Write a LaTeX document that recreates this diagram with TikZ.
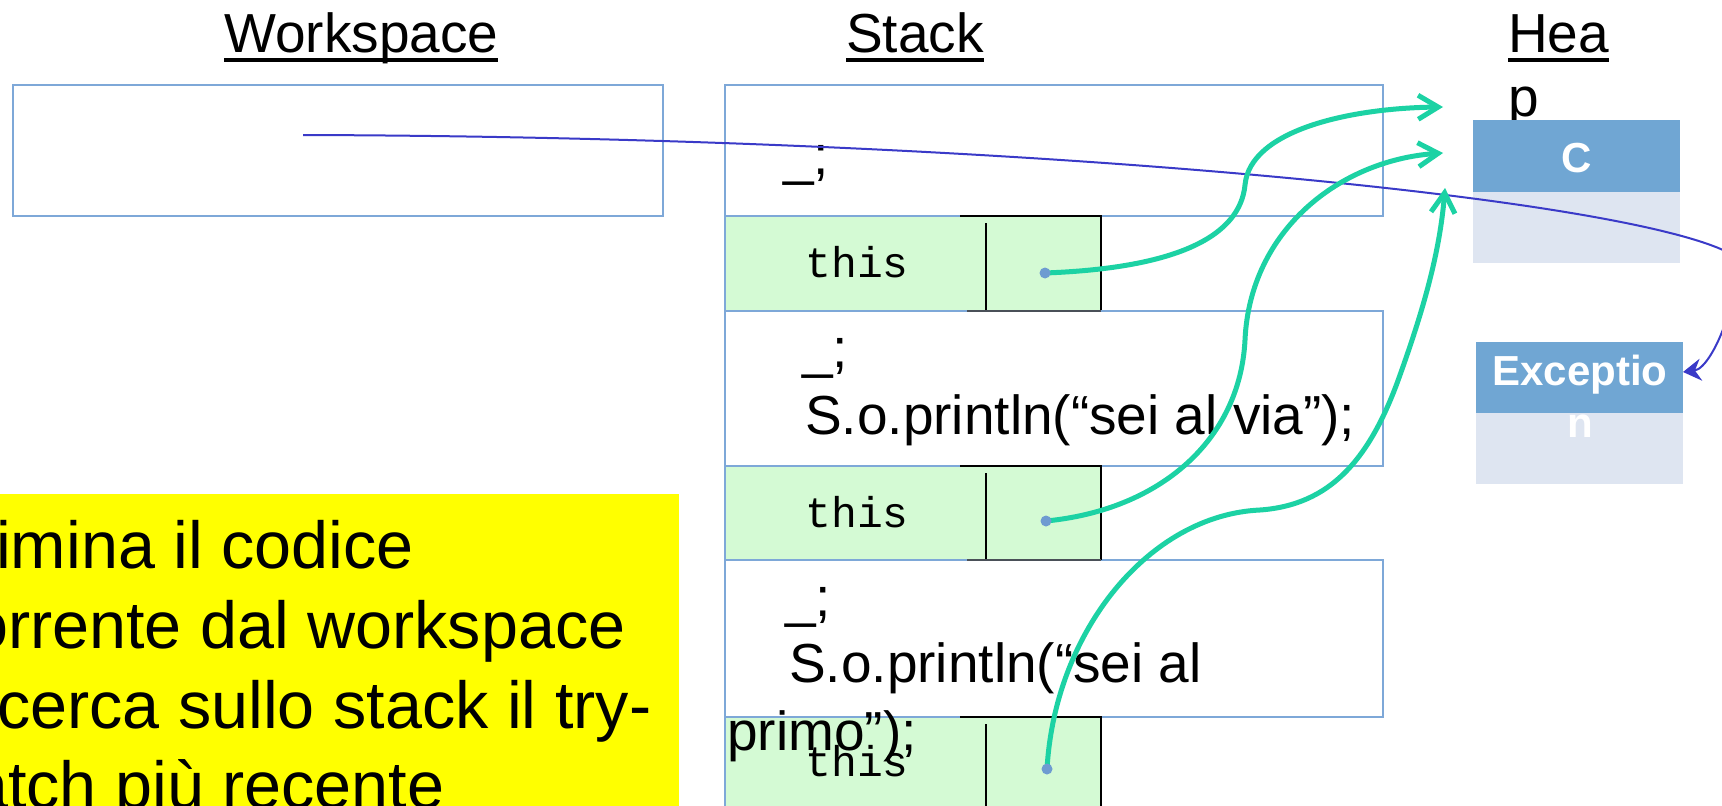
\documentclass[tikz,border=0pt]{standalone}
\usepackage{fontspec}
\setmainfont{Liberation Sans}
\newfontfamily\monofont{Liberation Mono}
\usetikzlibrary{arrows.meta}
\definecolor{frameblue}{HTML}{7EA8D8}
\definecolor{rowgreen}{HTML}{D4FAD4}
\definecolor{hdrblue}{HTML}{70A6D3}
\definecolor{bodyblue}{HTML}{DEE5F1}
\definecolor{linkgreen}{HTML}{1CD2A4}
\definecolor{refblue}{HTML}{3A3AC8}
\definecolor{dotblue}{HTML}{6E9BD1}
\definecolor{notey}{HTML}{FFFF00}
\definecolor{darkedge}{HTML}{4A5058}
\begin{document}
\begin{tikzpicture}[x=1pt,y=-1pt,
  box/.style={anchor=north west,inner sep=0pt,outer sep=0pt},
  frame/.style={box,draw=frameblue,line width=1.5pt},
  greenrow/.style={box,fill=rowgreen},
  hdr/.style={box,fill=hdrblue},
  body/.style={box,fill=bodyblue},
  title/.style={inner sep=0pt,anchor=base west,font=\fontsize{55}{66}\selectfont},
  uline/.style={line width=3.5pt},
  code/.style={inner sep=0pt,anchor=base west,font=\fontsize{55}{66}\selectfont},
  mono/.style={inner sep=0pt,anchor=base,font=\monofont\fontsize{43}{50}\selectfont},
  heaptxt/.style={inner sep=0pt,anchor=base,text=white,font=\bfseries\fontsize{42}{52}\selectfont},
  note/.style={inner sep=0pt,anchor=base west,font=\fontsize{66.5}{80}\selectfont},
  blackedge/.style={line width=2.2pt,black},
  dkedge/.style={line width=2pt,darkedge},
  link/.style={line width=5pt,linkgreen,line cap=round,-{Straight Barb[length=20pt,width=24pt]}},
  refline/.style={line width=2pt,refblue,-{Stealth[length=18pt,width=22pt,inset=6pt]}},
  dotstyle/.style={fill=dotblue}
]
\useasboundingbox (0,0) rectangle (1722,806);
\clip (0,0) rectangle (1722,806);
\fill[white] (0,0) rectangle (1722,806);

% titles
\node[title] (wst) at (224,52) {Workspace};
\node[title] (stt) at (846,52) {Stack};
\node[title] (hpt) at (1508,52) {Hea};
\node[title] (hpp) at (1508,116) {p};
\draw[uline] ([yshift=-8pt]wst.base west) -- ([yshift=-8pt]wst.base east);
\draw[uline] ([yshift=-8pt]stt.base west) -- ([yshift=-8pt]stt.base east);
\draw[uline] ([yshift=-8pt]hpt.base west) -- ([yshift=-8pt]hpt.base east);

% workspace
\node[frame,minimum width=650pt,minimum height=131pt] (ws) at (13,85) {};

% stack green rows
\node[greenrow,minimum width=376pt,minimum height=94pt] (g1) at (725,216) {};
\node[greenrow,minimum width=376pt,minimum height=94pt] (g2) at (725,466) {};
\node[greenrow,minimum width=376pt,minimum height=94pt] (g3) at (725,717) {};
\draw[frameblue,line width=1.5pt] (g1.north west) -- (g1.south west);
\draw[frameblue,line width=1.5pt] (g2.north west) -- (g2.south west);
\draw[frameblue,line width=1.5pt] (g3.north west) -- (g3.south west);

% stack frames
\node[frame,minimum width=658pt,minimum height=131pt] (f1) at (725,85) {};
\node[frame,minimum width=658pt,minimum height=155pt] (f2) at (725,311) {};
\node[frame,minimum width=658pt,minimum height=157pt] (f3) at (725,560) {};

% black edges of the green rows
\draw[blackedge] (960,216) -- (1101,216) -- (1101,310);
\draw[blackedge] (986,223) -- (986,310);
\draw[dkedge] (967,311) -- (1101,311);
\draw[blackedge] (960,466) -- (1101,466) -- (1101,560);
\draw[blackedge] (986,473) -- (986,560);
\draw[dkedge] (967,560) -- (1101,560);
\draw[blackedge] (960,717) -- (1101,717) -- (1101,812);
\draw[blackedge] (986,724) -- (986,812);

% texts in the stack
\node[code] (f1a) at (783,174) {\_;};
\node[code] (f2a) at (802,367) {\_;};
\node[code] (f2b) at (805,434) {S.o.println(“sei al via”);};
\node[code] (f3a) at (785,616) {\_;};
\node[code] (f3b) at (789,682) {S.o.println(“sei al};
\node[mono] (t1) at (857,277) {this};
\node[mono] (t2) at (857,527) {this};
\node[mono] (t3) at (857,776) {this};
\node[code] (f3c) at (727,750) {primo”);};

% heap
\node[hdr,minimum width=207pt,minimum height=72pt] (ch) at (1473,120) {};
\node[body,minimum width=207pt,minimum height=71pt] (cb) at (1473,192) {};
\node[heaptxt] (ct) at (1577,172) {C};
\node[hdr,minimum width=207pt,minimum height=71pt] (eh) at (1476,342) {};
\node[body,minimum width=207pt,minimum height=71pt] (eb) at (1476,413) {};
\node[heaptxt] (et1) at (1580,385) {Exceptio};
\node[heaptxt] (et2) at (1580,437) {n};

% yellow note
\node[box,fill=notey,minimum width=679pt,minimum height=320pt] (nb) at (0,494) {};
\node[note] (n1) at (-4,568) {imina il codice};
\node[note] (n2) at (-29,648) {orrente dal workspace};
\node[note] (n3) at (-3,728) {cerca sullo stack il try-};
\node[note] (n4) at (-29,808) {atch più recente};

% dots and connector ends
\coordinate (d1) at (1045,273);
\coordinate (d2) at (1046,521);
\coordinate (d3) at (1047,769);
\coordinate (a1) at (1443,107);
\coordinate (a2) at (1443,153);
\coordinate (a3) at (1445,188);
\coordinate (bs) at (303,135);
\coordinate (bt) at (1683,372);

% blue reference line
\draw[refline] (bs) .. controls (1000,137) and (1600,195) .. (1723,250)
  .. controls (1752,270) and (1715,368) .. (bt);

% green references
\draw[link] (d1) .. controls (1180,268) and (1240,235) .. (1245,185)
  .. controls (1250,130) and (1350,108) .. (a1);
\draw[link] (d2) .. controls (1160,510) and (1240,440) .. (1245,340)
  .. controls (1250,230) and (1340,160) .. (a2);
\draw[link] (d3) .. controls (1055,630) and (1150,515) .. (1260,510)
  .. controls (1330,505) and (1370,460) .. (1400,375)
  .. controls (1425,305) and (1440,250) .. (a3);

\fill[dotstyle] (d1) circle[radius=5.5pt];
\fill[dotstyle] (d2) circle[radius=5.5pt];
\fill[dotstyle] (d3) circle[radius=5.5pt];
\end{tikzpicture}
\end{document}
